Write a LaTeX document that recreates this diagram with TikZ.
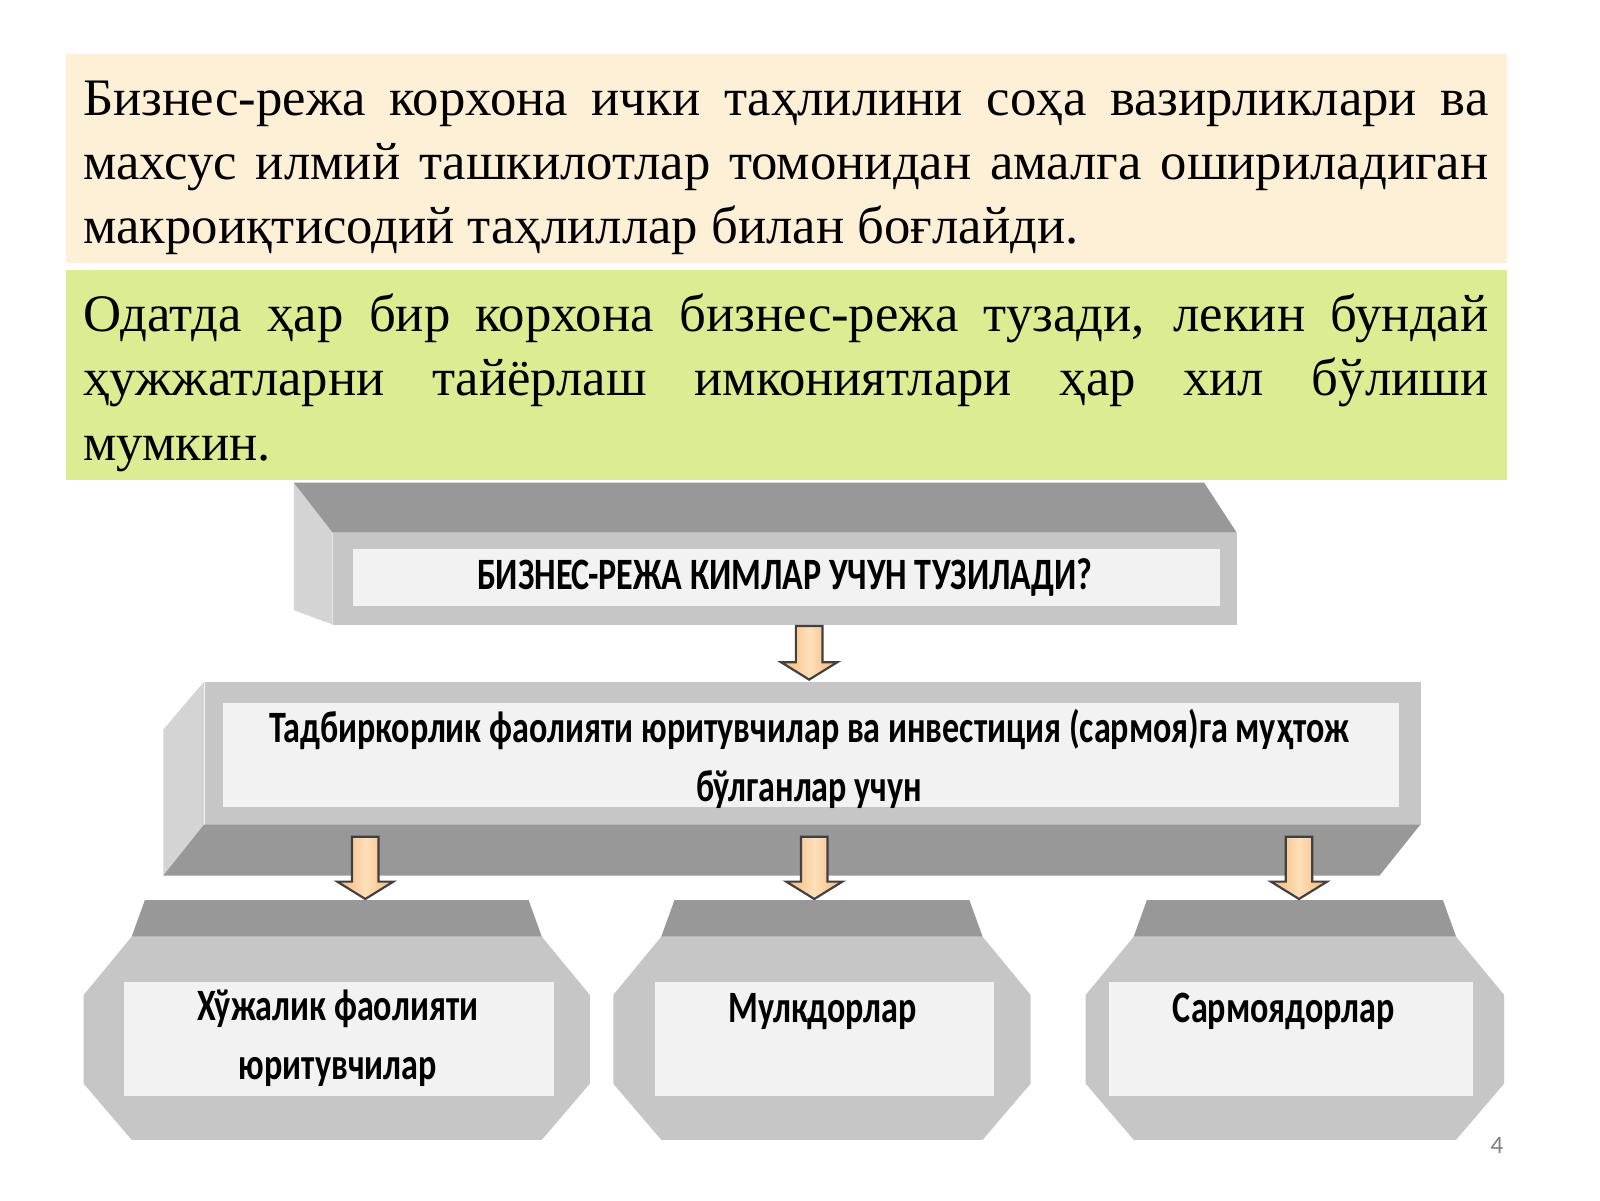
\documentclass[tikz,border=0pt]{standalone}
\usepackage{fontspec}
\setmainfont{Liberation Serif}
\newfontfamily\boxfont[FakeStretch=0.76]{Carlito}
\newfontfamily\numfont{Carlito}
\usetikzlibrary{calc}
\definecolor{beige}{RGB}{253,240,215}
\definecolor{lime}{RGB}{219,236,146}
\definecolor{facegray}{RGB}{198,198,198}
\definecolor{topgray}{RGB}{152,152,152}
\definecolor{sidegray}{RGB}{212,212,212}
\definecolor{panel}{RGB}{242,242,242}
\definecolor{arrowlight}{RGB}{253,224,186}
\definecolor{arroworange}{RGB}{246,180,118}
\newcommand{\lowbox}[2]{%
\fill[facegray] ({#1+47},918) -- ({#2-47},918) -- (#2,975) -- (#2,1062) -- ({#2-47},1117) -- ({#1+47},1117) -- (#1,1062) -- (#1,975) -- cycle;
\fill[topgray] ({#1+60},882) -- ({#2-60},882) -- ({#2-47},918) -- ({#1+47},918) -- cycle;}

\begin{document}
\begin{tikzpicture}[x=0.1mm,y=-0.1mm,
  para/.style={anchor=base west,inner sep=0pt,text width=137.7mm,align=justify,font={\fontsize{14.7}{17.9}\selectfont\tolerance=9999}},
  boxtext/.style={anchor=base,inner sep=0pt,align=center,font=\boxfont\bfseries\fontsize{12.5}{16.4}\selectfont},
  face/.style={fill=facegray,inner sep=0pt,anchor=north west},
  panelbox/.style={fill=panel,inner sep=0pt,anchor=north west},
  blockarr/.style={draw=black!75,line width=0.6pt,left color=arroworange,right color=arroworange,middle color=arrowlight,
    to path={let \p1=(\tikztostart),\p2=(\tikztotarget) in
      ({\x1-1.3mm},\y1) -- ({\x1+1.3mm},\y1) -- ({\x1+1.3mm},{\y2+1.7mm}) -- ({\x1+2.75mm},{\y2+1.7mm})
      -- (\x1,\y2) -- ({\x1-2.75mm},{\y2+1.7mm}) -- ({\x1-1.3mm},{\y2+1.7mm}) -- cycle}}]
\fill[white] (0,0) rectangle (1568,1176);
\useasboundingbox (0,0) rectangle (1568,1176);

\fill[beige] (65,53) rectangle (1477,258);
\fill[lime] (65,265) rectangle (1477,470);
\node[para] (intro) at (81,113) {Бизнес-режа корхона ички таҳлилини соҳа вазирликлари ва\linebreak махсус илмий ташкилотлар томонидан амалга ошириладиган\linebreak макроиқтисодий таҳлиллар билан боғлайди.};
\node[para] (note) at (81,325) {Одатда ҳар бир корхона бизнес-режа тузади, лекин бундай\linebreak ҳужжатларни тайёрлаш имкониятлари ҳар хил бўлиши\linebreak мумкин.};

\fill[sidegray] (288,473) -- (326,522) -- (326,612) -- (288,598) -- cycle;
\fill[topgray] (288,473) -- (1180,473) -- (1212,522) -- (326,522) -- cycle;
\node[face,minimum width=88.6mm,minimum height=9mm] (qface) at (326,522) {};
\node[panelbox,minimum width=85mm,minimum height=5.6mm] (q) at (345,537) {};
\node[boxtext] (qtext) at (769,578) {БИЗНЕС-РЕЖА КИМЛАР УЧУН ТУЗИЛАДИ?};

\fill[sidegray] (200,668) -- (160,715) -- (160,858) -- (200,808) -- cycle;
\node[face,minimum width=119.2mm,minimum height=14mm] (mface) at (200,668) {};
\fill[topgray] (200,808) -- (1392,808) -- (1352,858) -- (160,858) -- cycle;
\node[panelbox,minimum width=115.2mm,minimum height=10.2mm] (m) at (218,688) {};
\node[boxtext] (mtext) at (793,785) {Тадбиркорлик фаолияти юритувчилар ва инвестиция (сармоя)га муҳтож\\бўлганлар учун};

\lowbox{82}{578}
\lowbox{601}{1010}
\lowbox{1064}{1474}
\coordinate (b1top) at (330,881);
\coordinate (b2top) at (806,881);
\coordinate (b3top) at (1269,881);
\node[panelbox,minimum width=42.1mm,minimum height=11.1mm] (b1) at (121,962) {};
\node[panelbox,minimum width=33.2mm,minimum height=11.1mm] (b2) at (641,962) {};
\node[panelbox,minimum width=35.7mm,minimum height=11.1mm] (b3) at (1086,962) {};
\node[boxtext] (b1text) at (331,1058) {Хўжалик фаолияти\\юритувчилар};
\node[boxtext] (b2text) at (806,1002) {Мулкдорлар};
\node[boxtext] (b3text) at (1258,1002) {Сармоядорлар};

\coordinate (s1) at (358,820);
\coordinate (s2) at (798,820);
\coordinate (s3) at (1273,820);
\draw[blockarr] (qface.south -| 793,0) to (793,666);
\draw[blockarr] (s1) to (s1 |- b1top);
\draw[blockarr] (s2) to (s2 |- b2top);
\draw[blockarr] (s3) to (s3 |- b3top);

\node[font=\numfont\fontsize{7}{8}\selectfont,text=gray] (pnum) at (1467,1123) {4};
\end{tikzpicture}
\end{document}
